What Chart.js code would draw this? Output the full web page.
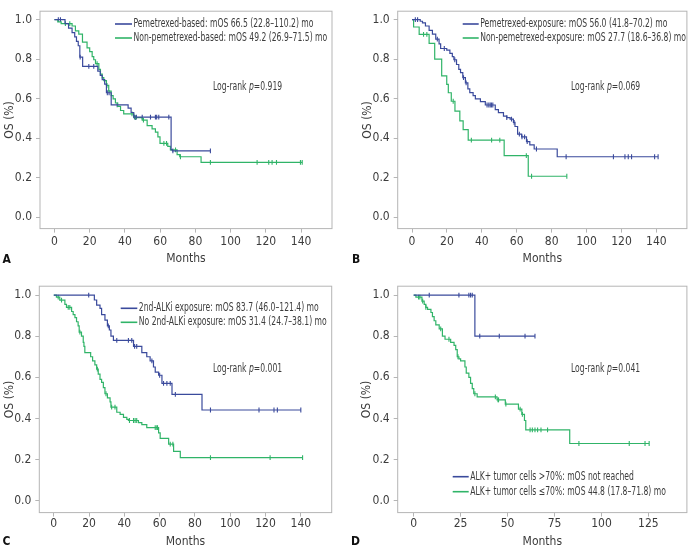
<!DOCTYPE html>
<html>
<head>
<meta charset="utf-8">
<script src="https://cdn.jsdelivr.net/npm/chart.js@4.4.0/dist/chart.umd.min.js"></script>
<style>
  body { margin: 0; background: #fff; }
  .panel { position: absolute; }
</style>
</head>
<body>
<div class="panel" style="left:0;top:0"><canvas id="cA" width="346" height="275"></canvas></div>
<div class="panel" style="left:346px;top:0"><canvas id="cB" width="346" height="275"></canvas></div>
<div class="panel" style="left:0;top:275px"><canvas id="cC" width="346" height="274"></canvas></div>
<div class="panel" style="left:346px;top:275px"><canvas id="cD" width="346" height="274"></canvas></div>
<script>
// tick labels
const monthTicks = [0, 20, 40, 60, 80, 100, 120, 140];
const monthTicksD = [0, 25, 50, 75, 100, 125];
const osTicks = [0, 0.2, 0.4, 0.6, 0.8, 1.0];

// A: pemetrexed-based vs non-pemetrexed-based
const aPemT = [0, 6, 8, 10, 11.5, 12.5, 13.5, 14.4, 16, 24.6, 26, 27.1, 28.5, 29.5, 32.2, 41.8, 43.5, 45, 66.2, 67, 88.5];
const aPemS = [1, 0.98, 0.957, 0.935, 0.913, 0.89, 0.868, 0.81, 0.764, 0.74, 0.718, 0.696, 0.674, 0.63, 0.569, 0.552, 0.53, 0.507, 0.341, 0.336, 0.336];
const aPemCens = [2.2, 3.4, 14.6, 19.5, 22.3, 30, 31, 35.6, 45.5, 46.5, 49.8, 54.5, 57.3, 58, 59.2, 64.9, 67.2, 88.5];
const aNonT = [0, 1.9, 3.8, 10, 11.9, 13.8, 15.9, 18.5, 20, 21.4, 22.3, 23.3, 25.2, 26.1, 27.1, 28, 29.5, 30.8, 32.2, 33.3, 34.6, 35.9, 37.5, 39.3, 45, 49.8, 52.6, 55.4, 57.3, 58.7, 59.9, 64.3, 65.8, 69.6, 71.1, 83.2, 140.6];
const aNonS = [1, 0.989, 0.98, 0.968, 0.943, 0.927, 0.886, 0.857, 0.838, 0.813, 0.797, 0.777, 0.748, 0.724, 0.707, 0.691, 0.667, 0.638, 0.615, 0.599, 0.578, 0.561, 0.54, 0.523, 0.504, 0.491, 0.463, 0.447, 0.431, 0.407, 0.374, 0.358, 0.341, 0.317, 0.306, 0.277, 0.277];
const aNonCens = [6.2, 8.7, 24.2, 29.8, 44, 46, 50.5, 62.1, 63.6, 68.7, 71.5, 88.5, 115, 121.6, 123.5, 126, 139.6, 140.6];
const aLabels = ['Pemetrexed-based: mOS 66.5 (22.8\u2013110.2) mo', 'Non-pemetrexed-based: mOS 49.2 (26.9\u201371.5) mo'];
const aP = '0.919';

// B: pemetrexed exposure
const bPemT = [0, 4.7, 6, 7.7, 9.8, 11.7, 13.6, 15.5, 16.4, 19.9, 21.7, 23.1, 24, 25.5, 26.8, 27.8, 29.1, 30.6, 32, 33.1, 35, 36.3, 39.2, 42, 47.7, 49.5, 52.4, 54.3, 56.2, 58.1, 59, 60.5, 62.8, 65.6, 67.5, 70, 83.2, 141];
const bPemS = [1, 0.992, 0.984, 0.968, 0.946, 0.927, 0.902, 0.878, 0.854, 0.846, 0.829, 0.813, 0.797, 0.773, 0.748, 0.732, 0.707, 0.68, 0.65, 0.631, 0.615, 0.599, 0.585, 0.568, 0.545, 0.529, 0.512, 0.504, 0.496, 0.48, 0.459, 0.42, 0.407, 0.382, 0.366, 0.345, 0.306, 0.306];
const bPemCens = [1.9, 3.2, 14.5, 18.5, 24.5, 29.5, 31, 43, 44, 44.8, 45.5, 46.3, 54.3, 57, 58.5, 61.5, 63, 64.5, 66, 71.3, 88.3, 115.4, 122, 123.9, 125.8, 139, 141];
const bNonT = [0, 0.9, 4.1, 9.8, 13, 17, 19.9, 20.8, 22.5, 24.6, 27.4, 29.3, 32.2, 52.8, 66.6, 88.7];
const bNonS = [1, 0.963, 0.926, 0.88, 0.8, 0.715, 0.672, 0.63, 0.587, 0.537, 0.488, 0.443, 0.39, 0.312, 0.207, 0.207];
const bNonCens = [6.6, 8.5, 23.6, 34, 45.6, 50.3, 65.5, 68.5, 88.7];
const bLabels = ['Pemetrexed-exposure: mOS 56.0 (41.8\u201370.2) mo', 'Non-pemetrexed-exposure: mOS 27.7 (18.6\u201336.8) mo'];
const bP = '0.069';

// C: 2nd-generation ALK inhibitor exposure
const cAlkT = [0, 23, 24.3, 26.2, 27.1, 29, 30.4, 31.5, 32.4, 33.8, 45.2, 49.9, 52.7, 54.6, 56.5, 57.5, 59.4, 61.3, 67, 84, 140];
const cAlkS = [1, 0.976, 0.951, 0.935, 0.905, 0.878, 0.85, 0.83, 0.8, 0.78, 0.75, 0.72, 0.7, 0.68, 0.65, 0.625, 0.61, 0.57, 0.517, 0.441, 0.441];
const cAlkCens = [19.8, 30.9, 35.7, 42.3, 44.2, 45.8, 47, 55.6, 60, 62.2, 64.1, 66, 68.9, 88.8, 116.3, 124.8, 126.7, 140];
const cNoT = [0, 1.5, 3.4, 6.3, 7.2, 10.1, 11, 12, 12.9, 13.8, 14.4, 15.7, 16.7, 17.1, 17.6, 20.9, 22, 23.3, 24.3, 25.2, 26.2, 27.1, 28.1, 29, 30.4, 31.9, 32.4, 35.7, 37.6, 39.5, 41.4, 42.3, 48, 49.9, 52.7, 59.4, 60.3, 65.1, 67.9, 71.7, 141];
const cNoS = [1, 0.99, 0.975, 0.955, 0.94, 0.92, 0.905, 0.89, 0.87, 0.85, 0.82, 0.8, 0.77, 0.75, 0.72, 0.7, 0.68, 0.66, 0.64, 0.615, 0.59, 0.575, 0.55, 0.52, 0.5, 0.48, 0.455, 0.43, 0.42, 0.405, 0.395, 0.39, 0.38, 0.37, 0.355, 0.33, 0.303, 0.275, 0.24, 0.209, 0.209];
const cNoCens = [2.5, 4.4, 8.2, 9.1, 14.8, 24.7, 29.6, 32.8, 34.7, 42.9, 45.2, 46.1, 47, 57.5, 58.4, 58.8, 66, 67.5, 88.8, 122.6, 141];
const cLabels = ['2nd-ALKi exposure: mOS 83.7 (46.0\u2013121.4) mo', 'No 2nd-ALKi exposure: mOS 31.4 (24.7\u201338.1) mo'];
const cP = '0.001';

// D: ALK+ tumour cell fraction
const dHighT = [0, 32.6, 64.6];
const dHighS = [1, 0.8, 0.8];
const dHighCens = [8.3, 24.1, 29.4, 30.3, 31.2, 35.2, 45.6, 59.3, 64.6];
const dLowT = [0, 1.2, 4.4, 5.6, 6.5, 7.4, 9.2, 10, 10.9, 11.8, 13.6, 15.3, 16.7, 19.7, 21.5, 22.4, 23.2, 24.1, 25, 27.3, 28, 29.4, 30.3, 31.2, 32, 33.8, 44.4, 48.8, 55.8, 57.6, 59, 59.7, 83.1, 125.4];
const dLowS = [1, 0.99, 0.97, 0.955, 0.94, 0.93, 0.915, 0.895, 0.875, 0.855, 0.835, 0.8, 0.785, 0.77, 0.755, 0.735, 0.7, 0.69, 0.68, 0.65, 0.62, 0.6, 0.57, 0.545, 0.52, 0.505, 0.49, 0.47, 0.445, 0.42, 0.39, 0.344, 0.278, 0.278];
const dLowCens = [2.6, 3.3, 4.8, 6.5, 14.4, 18.8, 23.6, 32.6, 43.5, 44.9, 45.2, 49.1, 56.7, 57.9, 62, 63.2, 64.6, 66, 67.8, 71.3, 88, 114.8, 123.2, 125.4];
const dLabels = ['ALK+ tumor cells >70%: mOS not reached', 'ALK+ tumor cells \u226470%: mOS 44.8 (17.8\u201371.8) mo'];
const dP = '0.041';

const BLUE = '#3a4a9c';
const GREEN = '#30b468';
const FRAME = '#b5b5b5';
const TEXT = '#3c3c3c';

// pick a narrow font if the machine has one
function hasFont(name) {
  const c = document.createElement('canvas').getContext('2d');
  const s = 'Months mOS 0123456789 Pemetrexed';
  c.font = '20px monospace';
  const w0 = c.measureText(s).width;
  c.font = `20px "${name}", monospace`;
  return c.measureText(s).width !== w0;
}
const NARROW = ['Liberation Sans Narrow', 'DejaVu Sans Condensed'].find(hasFont);
const FAMILY = NARROW ? `"${NARROW}", sans-serif` : 'Roboto, sans-serif';
Chart.defaults.font.family = FAMILY;
Chart.defaults.color = TEXT;

// squeeze the legend / log-rank texts so they keep the original width
const TXT_FONT = `11.5px ${FAMILY}`;
const measureCtx = document.createElement('canvas').getContext('2d');
measureCtx.font = TXT_FONT;
const SQ = Math.min(1, 180 / measureCtx.measureText(aLabels[0]).width);

const pts = (T, S) => T.map((t, i) => ({x: t, y: S[i]}));
const survAt = (T, S, t) => {
  let s = S[0];
  for (let i = 0; i < T.length; i++) if (T[i] <= t) s = S[i];
  return s;
};
const censPts = (T, S, C) => C.map(t => ({x: t, y: survAt(T, S, t)}));

function squeezedText(ctx, str, x, y) {
  ctx.save();
  ctx.translate(x, y);
  ctx.scale(SQ, 1);
  ctx.fillText(str, 0, 0);
  const w = ctx.measureText(str).width * SQ;
  ctx.restore();
  return w;
}

const panels = [
  {id: 'cA', h: 275, top: 2.9, right: 14, yW: 40, xH: 46.4, xMin: -8.2, xMax: 157.5, xTicks: monthTicks,
   yTitlePad: 2.8, xTitlePad: 8.5, xTickPad: 2, letter: ['A', 2.5, 260],
   legend: {x1: 115, x2: 132, ys: [24, 38]}, logrank: [213, 87],
   series: [[aPemT, aPemS, aPemCens], [aNonT, aNonS, aNonCens]], labels: aLabels, p: aP},
  {id: 'cB', h: 275, top: 2.9, right: 3, yW: 51.7, xH: 46.4, xMin: -8.2, xMax: 157.5, xTicks: monthTicks,
   yTitlePad: 14.5, xTitlePad: 8.5, xTickPad: 2, letter: ['B', 6, 260],
   legend: {x1: 116.7, x2: 132.7, ys: [24, 38]}, logrank: [225, 87],
   series: [[bPemT, bPemS, bPemCens], [bNonT, bNonS, bNonCens]], labels: bLabels, p: bP},
  {id: 'cC', h: 274, top: 11.2, right: 14.3, yW: 39.3, xH: 36.4, xMin: -8.2, xMax: 157.5, xTicks: monthTicks,
   yTitlePad: 2.8, xTitlePad: 0.1, xTickPad: 0, letter: ['C', 2.5, 266.7],
   legend: {x1: 120.7, x2: 137.3, ys: [33.3, 47.3]}, logrank: [213, 94],
   series: [[cAlkT, cAlkS, cAlkCens], [cNoT, cNoS, cNoCens]], labels: cLabels, p: cP},
  {id: 'cD', h: 274, top: 11.2, right: 2.7, yW: 51.7, xH: 36.4, xMin: -8.5, xMax: 145.5, xTicks: monthTicksD,
   yTitlePad: 13.5, xTitlePad: 0.1, xTickPad: 0, letter: ['D', 5, 266.7],
   legend: {x1: 106.7, x2: 122.7, ys: [201.7, 216.7]}, logrank: [225, 94],
   series: [[dHighT, dHighS, dHighCens], [dLowT, dLowS, dLowCens]], labels: dLabels, p: dP}
];

function decorations(p) {
  return {
    id: 'deco',
    afterDraw(chart) {
      const {ctx, chartArea: a} = chart;
      ctx.save();
      ctx.strokeStyle = FRAME;
      ctx.lineWidth = 1;
      ctx.strokeRect(a.left, a.top, a.right - a.left, a.bottom - a.top);

      // legend
      ctx.font = TXT_FONT;
      ctx.textBaseline = 'middle';
      ctx.fillStyle = TEXT;
      [BLUE, GREEN].forEach((col, i) => {
        const y = p.legend.ys[i];
        ctx.strokeStyle = col;
        ctx.lineWidth = 1.6;
        ctx.beginPath();
        ctx.moveTo(p.legend.x1, y);
        ctx.lineTo(p.legend.x2, y);
        ctx.stroke();
        squeezedText(ctx, p.labels[i], p.legend.x2 + 1.5, y);
      });

      // log-rank p
      let [x, y] = p.logrank;
      x += squeezedText(ctx, 'Log-rank ', x, y);
      ctx.font = `italic ${TXT_FONT}`;
      x += squeezedText(ctx, 'p', x, y);
      ctx.font = TXT_FONT;
      squeezedText(ctx, '=' + p.p, x, y);

      // panel letter
      ctx.font = `bold 12px ${FAMILY}`;
      ctx.fillStyle = '#111';
      ctx.fillText(p.letter[0], p.letter[1], p.letter[2]);
      ctx.restore();
    }
  };
}

panels.forEach(p => {
  const datasets = [];
  const cols = [BLUE, GREEN];
  p.series.forEach(([T, S, C], i) => {
    datasets.push({
      data: pts(T, S), stepped: 'before', borderColor: cols[i], borderWidth: 1.2,
      pointRadius: 0, fill: false
    });
  });
  p.series.forEach(([T, S, C], i) => {
    datasets.push({
      data: censPts(T, S, C), showLine: false, pointStyle: 'line', rotation: 90,
      pointRadius: 2.4, borderColor: cols[i], borderWidth: 1.1
    });
  });

  new Chart(document.getElementById(p.id), {
    type: 'line',
    data: {datasets},
    options: {
      responsive: false,
      animation: false,
      layout: {padding: {top: p.top, right: p.right, left: 0, bottom: 0}},
      plugins: {legend: {display: false}, tooltip: {enabled: false}},
      scales: {
        x: {
          type: 'linear', min: p.xMin, max: p.xMax,
          afterBuildTicks: s => { s.ticks = p.xTicks.map(v => ({value: v})); },
          afterFit: s => { s.height = p.xH; },
          grid: {drawOnChartArea: false, drawTicks: true, tickLength: 4, color: FRAME},
          border: {display: false},
          ticks: {padding: p.xTickPad, font: {size: 12}, color: TEXT, maxRotation: 0},
          title: {display: true, text: 'Months', font: {size: 12}, color: TEXT,
                  padding: {top: 0, bottom: p.xTitlePad}}
        },
        y: {
          min: -0.058, max: 1.043,
          afterBuildTicks: s => { s.ticks = osTicks.map(v => ({value: v})); },
          afterFit: s => { s.width = p.yW; },
          grid: {drawOnChartArea: false, drawTicks: true, tickLength: 4, color: FRAME},
          border: {display: false},
          ticks: {padding: 4, font: {size: 12}, color: TEXT, callback: v => v.toFixed(1)},
          title: {display: true, text: 'OS (%)', font: {size: 12}, color: TEXT,
                  padding: {top: p.yTitlePad, bottom: 0}}
        }
      }
    },
    plugins: [decorations(p)]
  });
});
</script>
</body>
</html>
